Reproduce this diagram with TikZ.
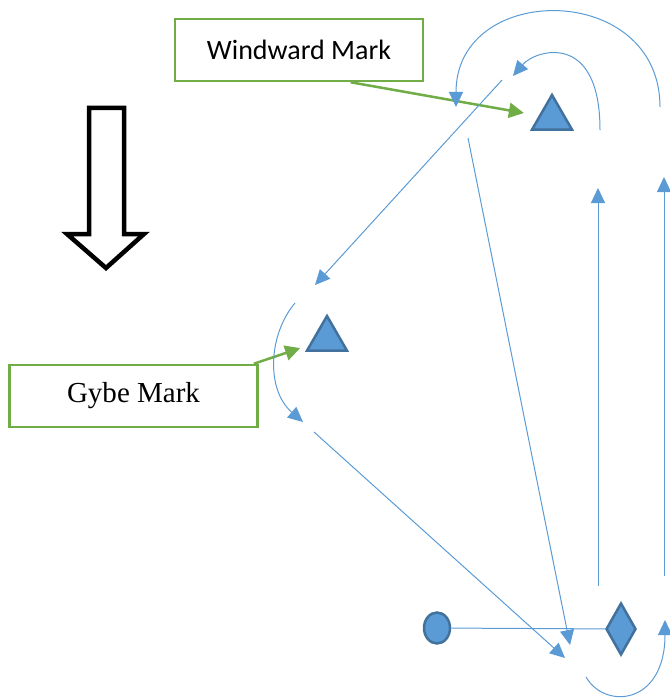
\documentclass[tikz,border=0pt]{standalone}
\usepackage{fontspec}
\usepackage{tikz}
\usetikzlibrary{shapes, arrows.meta, positioning, calc}
\newfontfamily\calibri{Carlito}
\newfontfamily\timesfont{Liberation Serif}
\definecolor{markblue}{HTML}{5B9BD5}
\definecolor{markedge}{HTML}{41719C}
\definecolor{taggreen}{HTML}{70AD47}

\begin{document}
\begin{tikzpicture}[x=1pt, y=-1pt]
		\useasboundingbox (0,0) rectangle (669,698);
		\tikzstyle{markt}=[regular polygon, regular polygon sides=3, draw=markedge, fill=markblue, line width=2.5pt, minimum size=46pt, inner sep=0pt]
		\tikzstyle{markd}=[diamond, draw=markedge, fill=markblue, line width=2.5pt, minimum width=30pt, minimum height=52pt, inner sep=0pt]
		\tikzstyle{markc}=[ellipse, draw=markedge, fill=markblue, line width=2.5pt, minimum width=26pt, minimum height=31pt, inner sep=0pt]
		\tikzstyle{tag}=[draw=taggreen, line width=2.5pt, fill=white, inner sep=0pt, minimum width=248pt, minimum height=62pt]
		\tikzstyle{leg}=[markblue, line width=1pt, -{Triangle[length=15pt, width=14pt]}]
		\tikzstyle{pointer}=[taggreen, line width=2.5pt, -{Triangle[length=15pt, width=15pt]}]
		%%
		%% wind
		\draw [line width=4.5pt] (89,108) -- (124,108) -- (124,234) -- (144,234) -- (106,268) -- (67,234) -- (89,234) -- cycle;
		%%
		\node (ww) at (552,118) [markt] {};
		\node (gb) at (327,339) [markt] {};
		\node (st) at (437,628) [markc] {};
		\node (fin) at (621,629) [markd] {};
		
		\node (wwbox) at (299,50) [tag] {\fontsize{28}{30}\selectfont\calibri Windward Mark};
		\node (gbbox) at (133.5,396) [tag] {\fontsize{29}{31}\selectfont\timesfont Gybe Mark};
		
		\draw [pointer, shorten >=15pt] (wwbox.-32) -- (ww);
		\draw [pointer, shorten >=9pt] (gbbox.15) -- (gb);
		\draw [markblue, line width=1pt] (st) -- (fin);
		%%
		\coordinate (w1) at (600,130);
		\coordinate (w2) at (513,76);
		\coordinate (w3) at (660,107);
		\coordinate (w4) at (456,107);
		\coordinate (w5) at (502,80);
		\coordinate (w6) at (468,138);
		\coordinate (g1) at (295,303);
		\coordinate (g2) at (303,422);
		\coordinate (g3) at (315,285);
		\coordinate (g4) at (314,432);
		\coordinate (f1) at (570,645);
		\coordinate (f2) at (565,658);
		\coordinate (f3) at (586,677);
		\coordinate (f4) at (665,620);
		\coordinate (u1) at (598,586);
		\coordinate (u2) at (598,188);
		\coordinate (u3) at (664,576);
		\coordinate (u4) at (664,177);
		
		\draw [leg] (w1) .. controls (600,30) and (535,50) .. (w2);
		\draw [leg] (w3) .. controls (660,-19) and (456,-19) .. (w4);
		\draw [leg] (w5) -- (g3);
		\draw [leg] (w6) -- (f1);
		\draw [leg] (g1) .. controls (268,335) and (266,390) .. (g2);
		\draw [leg] (g4) -- (f2);
		\draw [leg] (f3) .. controls (605,710) and (665,705) .. (f4);
		\draw [leg] (u1) -- (u2);
		\draw [leg] (u3) -- (u4);
		\end{tikzpicture}
\end{document}
